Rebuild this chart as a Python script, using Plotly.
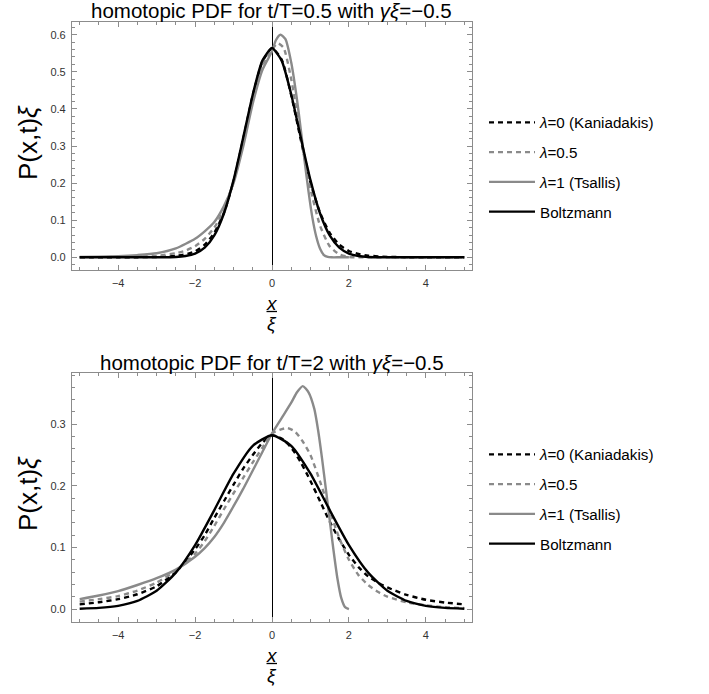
import plotly.graph_objects as go

# ---------------- data ----------------
# Top panel: t/T = 0.5
top_title = "homotopic PDF for t/T=0.5 with <i>γξ</i>=−0.5"
top_kan_x = [-5, -4, -3.5, -3, -2.5, -2.25, -2, -1.75, -1.5, -1.25, -1, -0.75, -0.5, -0.25, 0,
             0.25, 0.5, 0.75, 1, 1.25, 1.5, 1.75, 2, 2.25, 2.5, 3, 3.5, 4, 5]
top_kan_y = [0, 0.0001, 0.0003, 0.0008, 0.004, 0.008, 0.016, 0.034, 0.066, 0.12, 0.205, 0.318, 0.436, 0.527, 0.563,
             0.533, 0.437, 0.316, 0.202, 0.12, 0.066, 0.034, 0.017, 0.009, 0.0045, 0.0012, 0.0003, 0.0001, 0]
top_half_x = [-5, -4, -3.5, -3, -2.5, -2.25, -2, -1.75, -1.5, -1.25, -1, -0.75, -0.5, -0.25, 0,
              0.15, 0.3, 0.5, 0.75, 0.88, 1, 1.25, 1.5, 1.75, 2, 2.25, 2.5, 3, 4, 5]
top_half_y = [0.0002, 0.0008, 0.0018, 0.004, 0.011, 0.018, 0.03, 0.05, 0.08, 0.128, 0.205, 0.31, 0.427, 0.518, 0.56,
              0.577, 0.565, 0.48, 0.325, 0.25, 0.185, 0.085, 0.03, 0.008, 0.001, 0, 0, 0, 0, 0]
top_tsa_x = [-5, -4.5, -4, -3.5, -3, -2.5, -2, -1.75, -1.5, -1.25, -1, -0.75, -0.5, -0.25, 0,
             0.1, 0.22, 0.35, 0.5, 0.65, 0.75, 0.85, 0.95, 1.05, 1.15, 1.25, 1.35, 1.45, 1.55, 1.75, 2]
top_tsa_y = [0.001, 0.0015, 0.003, 0.006, 0.011, 0.024, 0.05, 0.07, 0.095, 0.138, 0.2, 0.298, 0.415, 0.505, 0.555,
             0.585, 0.6, 0.588, 0.525, 0.425, 0.343, 0.258, 0.177, 0.107, 0.056, 0.023, 0.006, 0.001, 0, 0, 0]
top_bol_x = [-5, -3, -2.5, -2.25, -2, -1.75, -1.5, -1.25, -1, -0.75, -0.5, -0.25, 0,
             0.25, 0.5, 0.75, 1, 1.25, 1.5, 1.75, 2, 2.25, 2.5, 3, 5]
top_bol_y = [0, 0.0001, 0.001, 0.0036, 0.010, 0.026, 0.059, 0.118, 0.208, 0.322, 0.439, 0.530, 0.564,
             0.530, 0.439, 0.322, 0.208, 0.118, 0.059, 0.026, 0.010, 0.0036, 0.001, 0.0001, 0]

# Bottom panel: t/T = 2
bot_title = "homotopic PDF for t/T=2 with <i>γξ</i>=−0.5"
bot_kan_x = [-5, -4.5, -4, -3.5, -3, -2.5, -2, -1.75, -1.5, -1.25, -1, -0.75, -0.5, -0.25, 0,
             0.25, 0.5, 0.75, 1, 1.25, 1.5, 1.75, 2, 2.25, 2.5, 2.75, 3, 3.5, 4, 4.5, 5]
bot_kan_y = [0.0076, 0.011, 0.016, 0.024, 0.037, 0.06, 0.097, 0.12, 0.148, 0.175, 0.202, 0.228, 0.25, 0.27, 0.282,
             0.277, 0.262, 0.238, 0.208, 0.175, 0.142, 0.113, 0.088, 0.068, 0.053, 0.043, 0.035, 0.023, 0.015, 0.0105, 0.0076]
bot_half_x = [-5, -4.5, -4, -3.5, -3, -2.5, -2, -1.75, -1.5, -1.25, -1, -0.75, -0.5, -0.25, 0,
              0.2, 0.4, 0.6, 0.8, 1, 1.25, 1.5, 1.75, 2, 2.25, 2.5, 2.75, 3, 3.5, 4, 4.5, 5]
bot_half_y = [0.012, 0.016, 0.021, 0.03, 0.043, 0.062, 0.09, 0.11, 0.135, 0.162, 0.188, 0.213, 0.238, 0.262, 0.285,
              0.291, 0.294, 0.288, 0.272, 0.25, 0.207, 0.16, 0.115, 0.08, 0.055, 0.039, 0.028, 0.02, 0.011, 0.006, 0.003, 0.0015]
bot_tsa_x = [-5, -4.5, -4, -3.5, -3, -2.5, -2, -1.75, -1.5, -1.25, -1, -0.75, -0.5, -0.25, 0,
             0.25, 0.5, 0.65, 0.8, 0.95, 1.1, 1.2, 1.3, 1.4, 1.5, 1.6, 1.7, 1.8, 1.9, 2]
bot_tsa_y = [0.016, 0.022, 0.029, 0.039, 0.05, 0.064, 0.085, 0.099, 0.117, 0.14, 0.167, 0.195, 0.225, 0.255, 0.285,
             0.31, 0.335, 0.352, 0.362, 0.352, 0.325, 0.29, 0.245, 0.195, 0.145, 0.095, 0.05, 0.018, 0.003, 0]
bot_bol_x = [-5, -4.5, -4, -3.5, -3, -2.5, -2, -1.5, -1, -0.5, 0, 0.5, 1, 1.5, 2, 2.5, 3, 3.5, 4, 4.5, 5]
bot_bol_y = [0.0005, 0.0018, 0.0052, 0.0132, 0.0297, 0.0591, 0.1038, 0.1607, 0.2197, 0.265, 0.2821,
             0.265, 0.2197, 0.1607, 0.1038, 0.0591, 0.0297, 0.0132, 0.0052, 0.0018, 0.0005]

series_names = ["<i>λ</i>=0 (Kaniadakis)", "<i>λ</i>=0.5", "<i>λ</i>=1 (Tsallis)", "Boltzmann"]
x_ticks = [-4, -2, 0, 2, 4]
top_y_ticks = [0.0, 0.1, 0.2, 0.3, 0.4, 0.5, 0.6]
bot_y_ticks = [0.0, 0.1, 0.2, 0.3]

# ---------------- styling ----------------
W, H = 709, 694
FONT = "Liberation Sans, Arial, Helvetica, sans-serif"
GRAY = "#8a8a8a"
FRAME = "#8c8c8c"
styles = [
    dict(color="black", width=2.4, dash="5px,4px"),
    dict(color=GRAY, width=2.4, dash="5px,4px"),
    dict(color=GRAY, width=2.4, dash="solid"),
    dict(color="black", width=2.4, dash="solid"),
]

def px_x(p):
    return p / W

def px_y(p):
    return 1 - p / H

fig = go.Figure()

panels = [
    dict(xa="x", ya="y", legend="legend",
         data=[(top_kan_x, top_kan_y), (top_half_x, top_half_y), (top_tsa_x, top_tsa_y), (top_bol_x, top_bol_y)]),
    dict(xa="x2", ya="y2", legend="legend2",
         data=[(bot_kan_x, bot_kan_y), (bot_half_x, bot_half_y), (bot_tsa_x, bot_tsa_y), (bot_bol_x, bot_bol_y)]),
]
for pi, p in enumerate(panels):
    for i, ((xs, ys), name, st) in enumerate(zip(p["data"], series_names, styles)):
        fig.add_trace(go.Scatter(
            x=xs, y=ys, mode="lines", name=name,
            line=dict(color=st["color"], width=st["width"], dash=st["dash"], shape="spline", smoothing=0.6),
            xaxis=p["xa"], yaxis=p["ya"], legend=p["legend"],
            legendgroup=f"p{pi}g{i}", showlegend=True,
        ))

x_dom = [px_x(72), px_x(472)]
top_dom = [px_y(270), px_y(22.3)]
bot_dom = [px_y(621.7), px_y(373.3)]

def xaxis_cfg(anchor):
    return dict(
        domain=x_dom, range=[-5.2, 5.2], anchor=anchor,
        tickvals=x_ticks, ticks="inside", ticklen=5, tickwidth=1, tickcolor=FRAME,
        showline=True, linecolor=FRAME, linewidth=1.2, mirror="allticks",
        minor=dict(dtick=0.5, ticks="inside", ticklen=3, tickcolor=FRAME, showgrid=False),
        showgrid=False, zeroline=True, zerolinecolor="black", zerolinewidth=1,
        tickfont=dict(size=11, color="#333333", family=FONT), ticklabelstandoff=3,
    )

def yaxis_cfg(anchor, dom, rng, ticks):
    return dict(
        domain=dom, range=rng, anchor=anchor,
        tickvals=ticks, tickformat=".1f", ticks="inside", ticklen=5, tickwidth=1, tickcolor=FRAME,
        showline=True, linecolor=FRAME, linewidth=1.2, mirror="allticks",
        minor=dict(dtick=0.02, ticks="inside", ticklen=3, tickcolor=FRAME, showgrid=False),
        showgrid=False, zeroline=False,
        tickfont=dict(size=11, color="#333333", family=FONT), ticklabelstandoff=3,
    )

legend_common = dict(
    font=dict(size=15.2, color="black", family=FONT),
    bgcolor="rgba(0,0,0,0)", borderwidth=0, tracegroupgap=7,
    xanchor="left", yanchor="middle", itemwidth=46, itemclick=False,
)

fig.update_layout(
    width=W, height=H, margin=dict(l=0, r=0, t=0, b=0),
    paper_bgcolor="white", plot_bgcolor="white",
    font=dict(family=FONT, color="black"),
    xaxis=xaxis_cfg("y"),
    yaxis=yaxis_cfg("x", top_dom, [-0.0342, 0.6334], top_y_ticks),
    xaxis2=xaxis_cfg("y2"),
    yaxis2=yaxis_cfg("x2", bot_dom, [-0.0206, 0.3828], bot_y_ticks),
    legend=dict(x=px_x(484), y=px_y(167.5), **legend_common),
    legend2=dict(x=px_x(484), y=px_y(499.5), **legend_common),
)

annotations = []
for title, ty, ly, fy in [(top_title, 10, 143, 298), (bot_title, 362, 494, 650)]:
    annotations.append(dict(text=title, x=px_x(271.7), y=px_y(ty), xref="paper", yref="paper",
                            showarrow=False, xanchor="center", yanchor="middle",
                            font=dict(size=20.5, color="black", family=FONT)))
    annotations.append(dict(text="P(x,t)<i>ξ</i>", x=px_x(28), y=px_y(ly), xref="paper", yref="paper",
                            showarrow=False, xanchor="center", yanchor="middle", textangle=-90,
                            font=dict(size=26, color="black", family=FONT)))
    annotations.append(dict(text="<i>x</i>", x=px_x(271.7), y=px_y(fy + 5), xref="paper", yref="paper",
                            showarrow=False, xanchor="center", yanchor="middle",
                            font=dict(size=19, color="black", family=FONT)))
    annotations.append(dict(text="<i>ξ</i>", x=px_x(271.7), y=px_y(fy + 25), xref="paper", yref="paper",
                            showarrow=False, xanchor="center", yanchor="middle",
                            font=dict(size=19, color="black", family=FONT)))
    fig.add_shape(type="line", xref="paper", yref="paper",
                  x0=px_x(266.5), x1=px_x(277), y0=px_y(fy + 13.5), y1=px_y(fy + 13.5),
                  line=dict(color="black", width=1.3))
fig.update_layout(annotations=annotations)

# remove the default 8px page margin so the figure fills the window exactly
fig.write_html("out.html", config={"displayModeBar": False, "staticPlot": False},
               post_script="document.body.style.margin='0px';document.documentElement.style.margin='0px';")
